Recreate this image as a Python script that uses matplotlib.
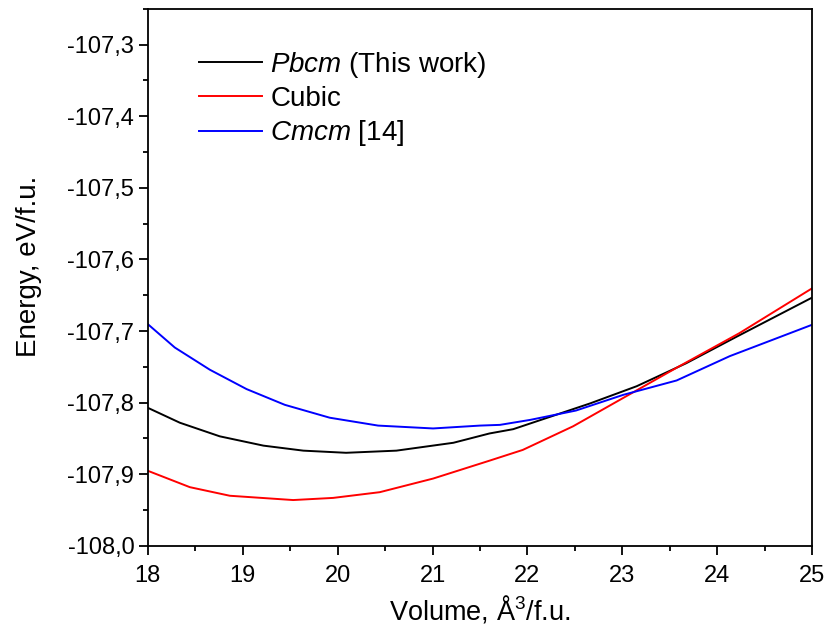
import numpy as np
import matplotlib
matplotlib.use("Agg")
import matplotlib.pyplot as plt
from matplotlib.ticker import MultipleLocator, FuncFormatter

plt.rcParams["font.family"] = ["Liberation Sans", "DejaVu Sans"]
plt.rcParams["mathtext.fontset"] = "custom"
plt.rcParams["mathtext.rm"] = "Liberation Sans"
plt.rcParams["mathtext.it"] = "Liberation Sans:italic"

# values
pbcm_v = [18.0, 18.34, 18.76, 19.22, 19.64, 20.09, 20.62, 21.22, 21.60, 21.85,
          22.66, 23.15, 23.67, 24.20, 25.0]
pbcm_e = [-107.807, -107.828, -107.847, -107.860, -107.867, -107.870, -107.867,
          -107.856, -107.843, -107.837, -107.801, -107.777, -107.745, -107.708,
          -107.653]

cubic_v = [18.0, 18.445, 18.866, 19.533, 19.954, 20.445, 21.006, 21.60, 21.95,
           22.48, 23.04, 23.60, 24.23, 25.0]
cubic_e = [-107.895, -107.918, -107.930, -107.936, -107.933, -107.925, -107.906,
           -107.881, -107.866, -107.833, -107.791, -107.749, -107.703, -107.640]

cmcm_v = [18.0, 18.287, 18.656, 19.042, 19.445, 19.918, 20.427, 21.006, 21.50,
          21.71, 22.03, 22.51, 23.01, 23.57, 24.13, 25.0]
cmcm_e = [-107.690, -107.723, -107.754, -107.781, -107.803, -107.821, -107.832,
          -107.836, -107.832, -107.831, -107.824, -107.811, -107.789, -107.769,
          -107.735, -107.691]

fig = plt.figure(figsize=(8.29, 6.34), dpi=100)
ax = fig.add_axes([0.178, 0.139, 0.802, 0.847])

ax.plot(pbcm_v, pbcm_e, color="black", lw=1.4, label=r"$\mathit{Pbcm}$ (This work)")
ax.plot(cubic_v, cubic_e, color="#ff0000", lw=1.4, label="Cubic")
ax.plot(cmcm_v, cmcm_e, color="#0000ff", lw=1.4, label=r"$\mathit{Cmcm}$ [14]")

ax.set_xlim(18, 25)
ax.set_ylim(-108.0, -107.25)
ax.xaxis.set_major_locator(MultipleLocator(1))
ax.xaxis.set_minor_locator(MultipleLocator(0.5))
ax.yaxis.set_major_locator(MultipleLocator(0.1))
ax.yaxis.set_minor_locator(MultipleLocator(0.05))
ax.yaxis.set_major_formatter(FuncFormatter(lambda v, p: f"{v:.1f}".replace(".", ",")))

ax.tick_params(which="major", direction="out", length=6.5, width=1.3, labelsize=17, pad=3)
ax.tick_params(axis="x", which="major", pad=7)
ax.tick_params(which="minor", direction="out", length=3.5, width=1.3)
for s in ax.spines.values():
    s.set_linewidth(1.3)

ax.set_xlabel("Volume, Å$^3$/f.u.", fontsize=19.5, labelpad=5)
ax.set_ylabel("Energy, eV/f.u.", fontsize=20, labelpad=18)
ax.yaxis.label.set_y(0.52)

ax.legend(loc="upper left", bbox_to_anchor=(0.077, 0.924), frameon=False,
          borderaxespad=0, borderpad=0,
          fontsize=20, handlelength=2.27, handletextpad=0.3, labelspacing=0.23)

fig.savefig("out.png", dpi=100)
